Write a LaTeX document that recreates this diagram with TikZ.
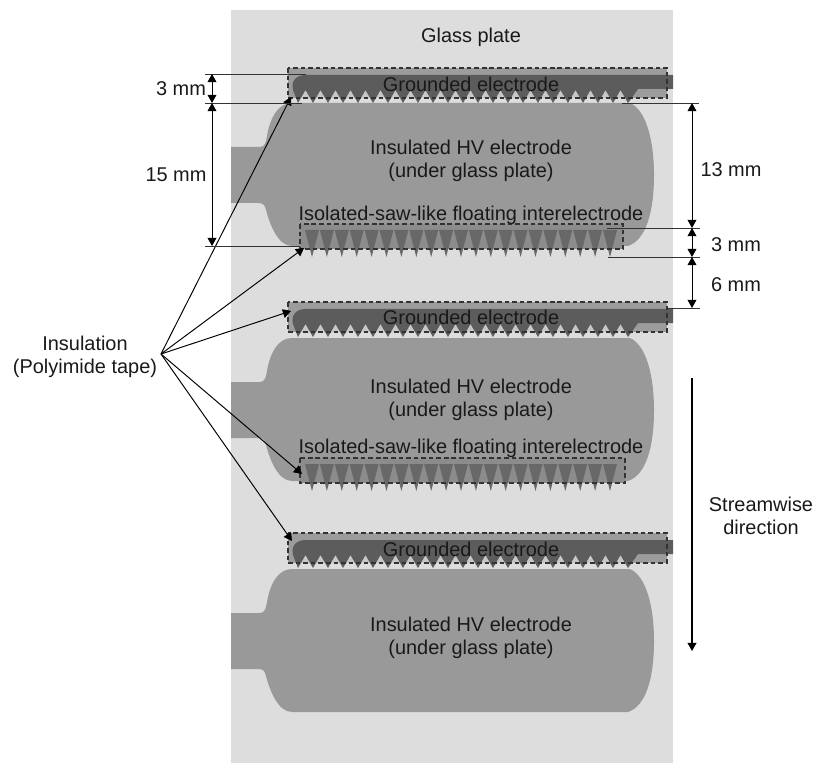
\documentclass[tikz,border=0pt]{standalone}
\usepackage{fontspec}
\setmainfont{Liberation Sans}
\usepackage{xcolor}
\usepackage{tikz}
\usetikzlibrary{arrows.meta}
\definecolor{glassgray}{HTML}{DDDDDD}
\definecolor{hvgray}{HTML}{999999}
\definecolor{tapegray}{HTML}{9C9C9C}
\definecolor{floatgray}{HTML}{8C8C8C}
\definecolor{groundgray}{HTML}{5C5C5C}
\definecolor{toothgray}{HTML}{686868}
\tikzstyle{lab} = [font=\fontsize{11.35}{13}\selectfont, align=center, inner sep=0pt, text=black!90]
\tikzstyle{tape} = [draw=black!80, line width=0.6pt, dash pattern=on 2.6pt off 1.7pt]
\tikzstyle{extline} = [draw=black!80, line width=0.55pt]
\tikzstyle{arrow} = [line width=0.55pt, -{Triangle[length=4.6pt,width=5pt]}]
\tikzstyle{dimarrow} = [line width=0.55pt, {Triangle[length=4.6pt,width=5pt]}-{Triangle[length=4.6pt,width=5pt]}]

\begin{document}
\begin{tikzpicture}[x=0.02cm, y=-0.02cm]
\useasboundingbox (0,0) rectangle (814,763);

\fill [glassgray] (231,10) rectangle (673,763);

% HV electrodes
\foreach \dy in {0,235,466} {
  \fill [hvgray, shift={(0,\dy)}] (231,147) -- (260,147) .. controls (265,147) and (266,142) .. (267,136)
    .. controls (270,118) and (278,103) .. (292,103) -- (630,103)
    .. controls (646,110) and (654,140) .. (654,175) .. controls (654,212) and (646,240) .. (628,246)
    -- (292,246) .. controls (278,246) and (270,225) .. (266,210) .. controls (265,205) and (263,203) .. (258,203)
    -- (231,203) -- cycle;
}

% grounded electrodes
\foreach \dy in {0,234,465} {
  \begin{scope}[shift={(0,\dy)}]
    \fill [tapegray] (288,68) rectangle (667,98);
    \foreach \i in {0,...,21}
      \fill [glassgray!90!black] (298+15*\i+2,98) -- (305.5+15*\i,90) -- (313+15*\i-2,98) -- cycle;
    \fill [groundgray] (306,75) -- (673,75) -- (673,89) -- (638,89) -- (628,103)
      \foreach \i in {21,...,0} { -- (620.5-15*21+15*\i,90) -- (298+15*\i,103) } -- (293,90)
      .. controls (291,82) and (295,75) .. (306,75) -- cycle;
    \draw [tape] (288,68) rectangle (667,98);
  \end{scope}
}

% floating interelectrodes
\foreach \dy/\xr in {0/623,234/625} {
  \begin{scope}[shift={(0,\dy)}]
    \fill [floatgray] (300,224) rectangle (\xr,249);
    \foreach \i in {0,...,20}
      \fill [toothgray] (305+14.9*\i,230) -- (319+14.9*\i,230) -- (312+14.9*\i,257) -- cycle;
    \draw [tape] (300,224) rectangle (\xr,249);
  \end{scope}
}

\node (glass) [lab] at (471,37) {Glass plate};

\node (gnd1) [lab] at (471,84) {Grounded electrode};
\node (gnd2) [lab] at (471,317) {Grounded electrode};
\node (gnd3) [lab] at (471,549) {Grounded electrode};

\node (hv1) [lab] at (471,161) {Insulated HV electrode\\(under glass plate)};
\node (hv2) [lab] at (471,400) {Insulated HV electrode\\(under glass plate)};
\node (hv3) [lab] at (471,638) {Insulated HV electrode\\(under glass plate)};

\node (float1) [lab] at (471,215) {Isolated-saw-like floating interelectrode};
\node (float2) [lab] at (471,448) {Isolated-saw-like floating interelectrode};

\node (ins) [lab] at (85,357) {Insulation\\(Polyimide tape)};
\node (sw) [lab] at (761,516) {Streamwise\\direction};
\node (d3a) [lab] at (181,89) {3 mm};
\node (d15) [lab] at (176,175) {15 mm};
\node (d13) [lab] at (731,170) {13 mm};
\node (d3b) [lab] at (736,245) {3 mm};
\node (d6) [lab] at (736,285) {6 mm};

\coordinate (fan) at (161,354);
\coordinate (t1) at (291,97);
\coordinate (t2) at (304,248);
\coordinate (t3) at (291,311);
\coordinate (t4) at (302,474);
\coordinate (t5) at (292,541);

\foreach \t in {t1,t2,t3,t4,t5}
  \draw [arrow] (fan) -- (\t);

\coordinate (a1) at (205,74);
\coordinate (a2) at (306,74);
\coordinate (b1) at (205,103);
\coordinate (b2) at (302,103);
\coordinate (c1) at (205,246);
\coordinate (c2) at (300,246);
\coordinate (e1) at (622,103);
\coordinate (e2) at (699,103);
\coordinate (f1) at (607,228);
\coordinate (f2) at (700,228);
\coordinate (g1) at (608,257);
\coordinate (g2) at (700,257);
\coordinate (h1) at (668,308);
\coordinate (h2) at (700,308);

\foreach \p/\q in {a1/a2,b1/b2,c1/c2,e1/e2,f1/f2,g1/g2,h1/h2}
  \draw [extline] (\p) -- (\q);

\coordinate (l1) at (212,74);
\coordinate (l2) at (212,103);
\coordinate (l3) at (212,246);
\coordinate (r1) at (692,103);
\coordinate (r2) at (692,228);
\coordinate (r3) at (692,257);
\coordinate (r4) at (692,308);
\coordinate (s1) at (692,378);
\coordinate (s2) at (692,651);

\foreach \p/\q in {l1/l2,l2/l3,r1/r2,r2/r3,r3/r4}
  \draw [dimarrow] (\p) -- (\q);
\draw [arrow, line width=0.8pt] (s1) -- (s2);

\end{tikzpicture}
\end{document}
